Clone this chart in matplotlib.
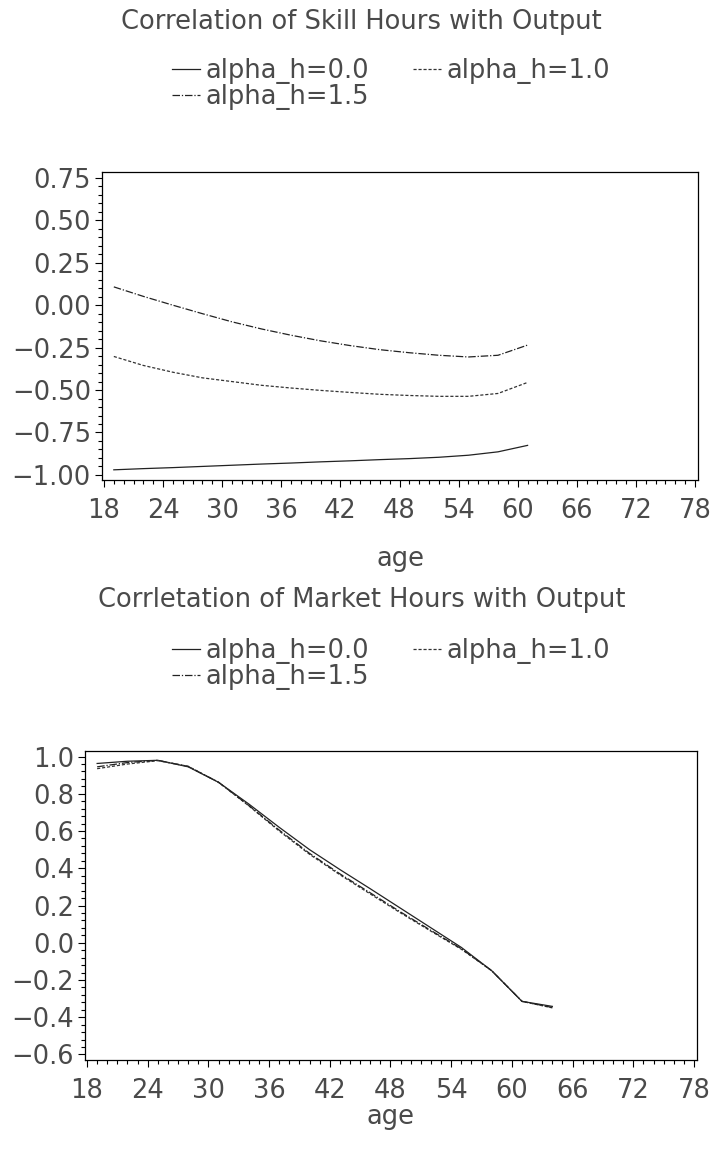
import matplotlib
matplotlib.use("Agg")
import matplotlib.pyplot as plt
from matplotlib.ticker import MultipleLocator, FuncFormatter
from matplotlib.lines import Line2D

# correlation of skill hours with output
ages_skill = [19, 22, 25, 28, 31, 34, 37, 40, 43, 46, 49, 52, 55, 58, 61]
skill_a00 = [-0.970, -0.963, -0.957, -0.950, -0.943, -0.936, -0.930, -0.923,
             -0.917, -0.910, -0.904, -0.896, -0.884, -0.864, -0.826]
skill_a10 = [-0.302, -0.355, -0.395, -0.428, -0.450, -0.472, -0.488, -0.502,
             -0.514, -0.525, -0.532, -0.537, -0.537, -0.520, -0.455]
skill_a15 = [0.108, 0.052, 0.000, -0.050, -0.098, -0.140, -0.177, -0.210,
             -0.238, -0.262, -0.280, -0.295, -0.305, -0.295, -0.235]

# correlation of market hours with output
ages_market = [19, 22, 25, 28, 31, 34, 37, 40, 43, 46, 49, 52, 55, 58, 61, 64]
market_a00 = [0.963, 0.975, 0.980, 0.945, 0.862, 0.745, 0.620, 0.500,
              0.393, 0.290, 0.185, 0.080, -0.025, -0.150, -0.315, -0.342]
market_a10 = [0.935, 0.960, 0.978, 0.948, 0.862, 0.735, 0.600, 0.475,
              0.365, 0.262, 0.160, 0.062, -0.035, -0.150, -0.315, -0.350]
market_a15 = [0.945, 0.968, 0.980, 0.947, 0.862, 0.737, 0.605, 0.480,
              0.370, 0.268, 0.165, 0.066, -0.032, -0.150, -0.315, -0.348]

labels = ["alpha_h=0.0", "alpha_h=1.0", "alpha_h=1.5"]
x_ticks = [18, 24, 30, 36, 42, 48, 54, 60, 66, 72, 78]

plt.rcParams['font.family'] = ['DejaVu Sans']
FS = 18.5
TXT = '#4a4a4a'
estilos = ['-', (0, (2.5, 1.5)), (0, (6, 1.5, 1, 1.5))]
colores = ['#222222', '#333333', '#222222']

W, H = 710, 1151
fig = plt.figure(figsize=(W / 100, H / 100), dpi=100)


def ax_px(left, right, top, bottom):
    return fig.add_axes([left / W, 1 - bottom / H, (right - left) / W, (bottom - top) / H])


def formato(dec):
    def f(v, pos):
        s = f"{v:.{dec}f}"
        if s.startswith('-'):
            s = '\u2212' + s[1:]
        return s
    return FuncFormatter(f)


def dibujar(ax, ages, series, ylim, ymaj, ymin, dec, lpad):
    for ys, ls, c in zip(series, estilos, colores):
        ax.plot(ages, ys, linestyle=ls, color=c, lw=0.9)
    ax.set_xlim(17.8, 78.3)
    ax.set_ylim(*ylim)
    ax.set_xticks(x_ticks)
    ax.xaxis.set_minor_locator(MultipleLocator(1))
    ax.yaxis.set_major_locator(MultipleLocator(ymaj))
    ax.yaxis.set_minor_locator(MultipleLocator(ymin))
    ax.yaxis.set_major_formatter(formato(dec))
    ax.tick_params(which='major', direction='out', length=5, width=0.8,
                   labelsize=FS, labelcolor=TXT, pad=3)
    ax.tick_params(which='minor', direction='out', length=3, width=0.8)
    ax.tick_params(axis='x', which='major', pad=8)
    for s in ax.spines.values():
        s.set_linewidth(0.9)
    ax.set_xlabel('age', fontsize=FS, color=TXT, labelpad=lpad)


def leyenda(y_top):
    handles = [Line2D([], [], linestyle=estilos[0], color=colores[0], lw=0.9),
               Line2D([], [], linestyle=estilos[2], color=colores[2], lw=0.9),
               Line2D([], [], linestyle=estilos[1], color=colores[1], lw=0.9)]
    leg = fig.legend(handles, [labels[0], labels[2], labels[1]], ncol=2,
                     loc='upper left', bbox_to_anchor=(172 / W, 1 - y_top / H),
                     frameon=False, fontsize=FS, handlelength=1.1,
                     handletextpad=0.2, columnspacing=1.7, labelspacing=0.0,
                     borderpad=0, borderaxespad=0)
    for t in leg.get_texts():
        t.set_color(TXT)


# grafico de arriba
ax1 = ax_px(102, 698, 172, 480)
dibujar(ax1, ages_skill, [skill_a00, skill_a10, skill_a15],
        (-1.03, 0.785), 0.25, 0.05, 2, 16)
fig.text(361 / W, 1 - 22 / H, 'Correlation of Skill Hours with Output',
         fontsize=FS, color=TXT, ha='center', va='center')
leyenda(58)

# grafico de abajo
ax2 = ax_px(85, 697, 751, 1060)
dibujar(ax2, ages_market, [market_a00, market_a10, market_a15],
        (-0.63, 1.03), 0.2, 0.04, 1, 0)
fig.text(362 / W, 1 - 600 / H, 'Corrletation of Market Hours with Output',
         fontsize=FS, color=TXT, ha='center', va='center')
leyenda(638)

fig.savefig('out.png', dpi=100)
